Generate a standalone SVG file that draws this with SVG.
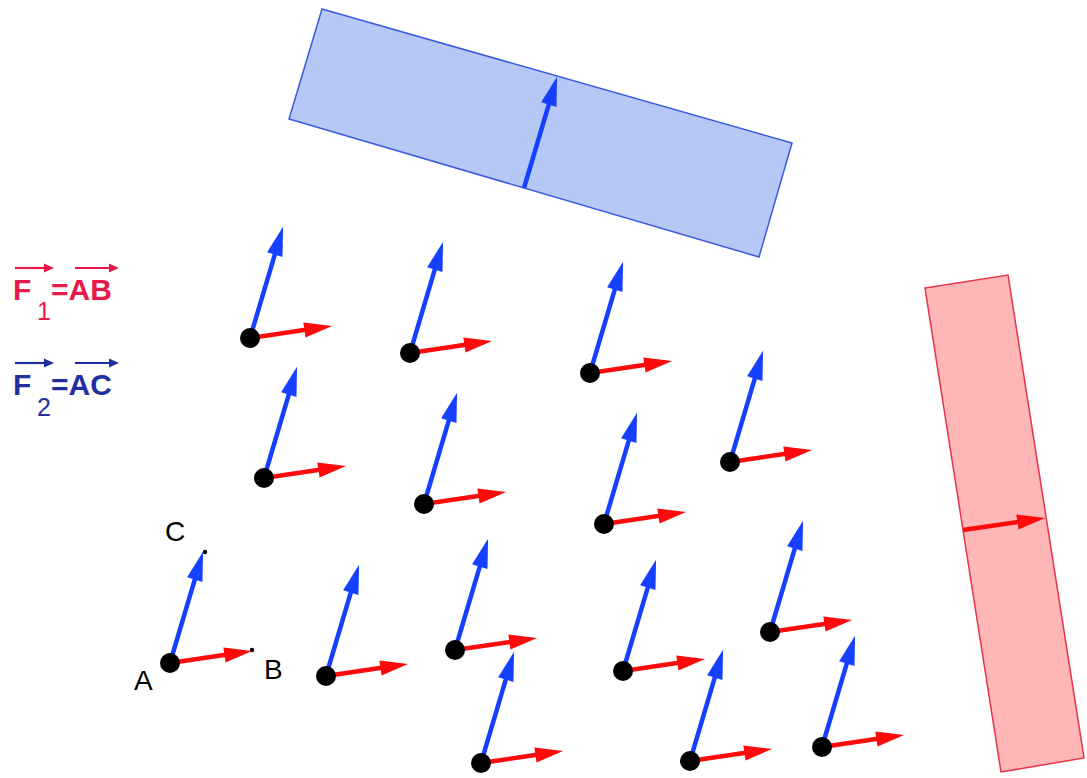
<svg xmlns="http://www.w3.org/2000/svg" xmlns:xlink="http://www.w3.org/1999/xlink" width="1087" height="778" viewBox="0 0 1087 778">
<style>
.lbl{font-family:"Liberation Sans",Arial,sans-serif;fill:#000;font-size:28px}
.lg{font-family:"Liberation Sans",Arial,sans-serif;font-weight:bold;font-size:30px}
.sub{font-family:"Liberation Sans",Arial,sans-serif;font-size:25px}
.red{fill:#e8194a}
.blue{fill:#1f2fa0}
.dot{fill:#000}
</style>
<defs>
<g id="vecR" transform="rotate(-8.33)">
<line x1="0" y1="0" x2="58" y2="0" stroke="#ff0a0a" stroke-width="4.5"/>
<polygon points="83,0 55,-7.5 55,7.5" fill="#ff0a0a"/>
</g>
<g id="vecB" transform="rotate(-73.44)">
<line x1="0" y1="0" x2="90" y2="0" stroke="#1640ff" stroke-width="4.5"/>
<polygon points="116,0 87,-8 87,8" fill="#1640ff"/>
</g>
<g id="frame">
<use xlink:href="#vecB" href="#vecB"/>
<use xlink:href="#vecR" href="#vecR"/>
<circle class="dot" r="10"/>
</g>
</defs>

<g id="legend">
<g id="legend-f1">
<line x1="15" y1="268" x2="46" y2="268" stroke="#e8194a" stroke-width="2.2"/>
<polygon points="54,268 44,263.5 44,272.5" fill="#e8194a"/>
<line x1="75" y1="268" x2="110" y2="268" stroke="#e8194a" stroke-width="2.2"/>
<polygon points="119,268 109,263.5 109,272.5" fill="#e8194a"/>
<text class="lg red" x="13" y="300">F</text>
<text class="sub red" x="37" y="320">1</text>
<text class="lg red" x="51" y="300">=AB</text>
</g>
<g id="legend-f2">
<line x1="15" y1="363" x2="46" y2="363" stroke="#1f2fa0" stroke-width="2.2"/>
<polygon points="54,363 44,358.5 44,367.5" fill="#1f2fa0"/>
<line x1="75" y1="363" x2="110" y2="363" stroke="#1f2fa0" stroke-width="2.2"/>
<polygon points="119,363 109,358.5 109,367.5" fill="#1f2fa0"/>
<text class="lg blue" x="13" y="395">F</text>
<text class="sub blue" x="37" y="416">2</text>
<text class="lg blue" x="51" y="395">=AC</text>
</g>
</g>

<g id="blue-plate">
<polygon points="322,9 792,143 759,257 289,119" fill="#b6c8f6" stroke="#3a5ae0" stroke-width="1.5"/>
<use xlink:href="#vecB" href="#vecB" transform="translate(524,188)"/>
</g>

<g id="red-plate">
<polygon points="925,288 1008,275 1084,758 1001,772" fill="#ffb6b6" stroke="#e8334a" stroke-width="1.5"/>
<use xlink:href="#vecR" href="#vecR" transform="translate(963,530)"/>
</g>

<g id="frame-A">
<circle class="dot" cx="252" cy="650" r="2.2"/>
<circle class="dot" cx="205" cy="552" r="2.2"/>
<use xlink:href="#frame" href="#frame" transform="translate(170,663)"/>
<text class="lbl" x="165" y="541">C</text>
<text class="lbl" x="264" y="679">B</text>
<text class="lbl" x="134" y="690">A</text>
</g>

<g id="connectors">
<g id="n1"><use xlink:href="#frame" href="#frame" transform="translate(250,338)"/></g>
<g id="n2"><use xlink:href="#frame" href="#frame" transform="translate(410,353)"/></g>
<g id="n3"><use xlink:href="#frame" href="#frame" transform="translate(590,373)"/></g>
<g id="n4"><use xlink:href="#frame" href="#frame" transform="translate(264,478)"/></g>
<g id="n5"><use xlink:href="#frame" href="#frame" transform="translate(424,504)"/></g>
<g id="n6"><use xlink:href="#frame" href="#frame" transform="translate(604,524)"/></g>
<g id="n7"><use xlink:href="#frame" href="#frame" transform="translate(730,462)"/></g>
<g id="n8"><use xlink:href="#frame" href="#frame" transform="translate(326,676)"/></g>
<g id="n9"><use xlink:href="#frame" href="#frame" transform="translate(455,650)"/></g>
<g id="n10"><use xlink:href="#frame" href="#frame" transform="translate(623,671)"/></g>
<g id="n11"><use xlink:href="#frame" href="#frame" transform="translate(770,632)"/></g>
<g id="n12"><use xlink:href="#frame" href="#frame" transform="translate(481,763)"/></g>
<g id="n13"><use xlink:href="#frame" href="#frame" transform="translate(690,761)"/></g>
<g id="n14"><use xlink:href="#frame" href="#frame" transform="translate(822,747)"/></g>
</g>
</svg>
